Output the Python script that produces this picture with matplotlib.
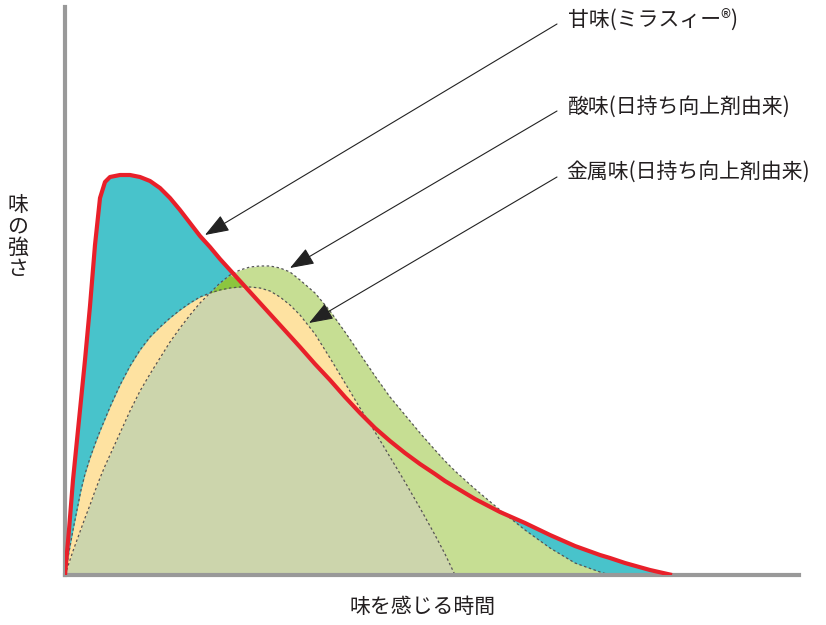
"""
Taste intensity over time: sweetness (Mirasee) vs. acidity / metallic taste
from shelf-life improver. Schematic curves read off the reference picture.
"""

import matplotlib
matplotlib.use("Agg")
import matplotlib.pyplot as plt
import numpy as np

plt.rcParams["font.family"] = ["Noto Sans CJK JP", "DejaVu Sans"]

# ------------------------------------------------------------------
# data (arbitrary units: time 0..734, intensity 0..568)
# ------------------------------------------------------------------
time = [0, 4, 8, 12, 16, 20, 25, 30, 35, 40,
        45, 50, 55, 65, 75, 85, 95, 105, 115, 125,
        135, 145, 155, 165, 175, 185, 195, 205, 215, 225,
        235, 250, 265, 280, 295, 310, 325, 340, 355, 370,
        380, 390, 410, 435, 460, 485, 510, 535, 545, 560,
        585, 607]

sweet = [0, 45, 95, 135, 175, 215, 269, 330, 377, 393,
         398, 399, 400, 400, 398, 394, 387, 377, 365, 352,
         339, 328, 316, 305, 294, 283, 272, 261, 250, 239,
         228, 211, 195, 178, 162, 147, 134, 122, 111, 101,
         94, 88, 76, 63, 52, 40, 29, 20, 17, 12,
         5, 0]

acid = [0, 12, 24, 35, 46, 57, 70, 84, 97, 109,
        120, 131, 142, 164, 184, 201, 217, 233, 247, 260,
        272, 282, 292, 300, 305, 308, 309, 309, 307, 303,
        295, 282, 264, 243, 221, 199, 178, 160, 142, 125,
        114, 104, 86, 65, 45, 27, 12, 3, 0, 0,
        0, 0]

metal = [0, 23, 45, 65, 85, 101, 117, 131, 144, 156,
         168, 179, 190, 209, 225, 238, 248, 257, 265, 272,
         278, 282, 285, 287, 288, 288, 287, 284, 278, 270,
         260, 241, 217, 192, 167, 143, 118, 93, 67, 40,
         21, 0, 0, 0, 0, 0, 0, 0, 0, 0,
         0, 0]

labels = ["甘味(ミラスィー®)", "酸味(日持ち向上剤由来)", "金属味(日持ち向上剤由来)"]
x_label = "味を感じる時間"
y_label = "味の強さ"

C_SWEET = "#48c3cb"
C_ACID = "#c6de93"
C_METAL = "#fee2a1"
C_ALL = "#ccd5ac"
C_DARK = "#8cc63f"
C_RED = "#e8202a"
C_AXIS = "#999999"
C_TEXT = "#231f20"


def main():
    t = np.array(time, dtype=float)
    s = np.array(sweet, dtype=float)
    a = np.array(acid, dtype=float)
    m = np.array(metal, dtype=float)

    fig = plt.figure(figsize=(8.26, 6.25), dpi=100)
    ax = fig.add_axes([65 / 826, 50 / 625, 734 / 826, 568 / 625])
    ax.set_xlim(0, 734)
    ax.set_ylim(0, 568)

    # stacked fills
    ax.fill_between(t, 0, s, color=C_SWEET, lw=0, zorder=1)
    ax.fill_between(t, 0, a, color=C_ACID, lw=0, zorder=1.1)
    ax.fill_between(t, 0, m, color=C_METAL, lw=0, zorder=1.2)
    ax.fill_between(t, 0, np.minimum(np.minimum(a, m), s),
                    color=C_ALL, lw=0, zorder=1.3)
    top = np.minimum(a, s)
    ax.fill_between(t, m, top, where=(top > m) & (t < 200),
                    interpolate=True, color=C_DARK, lw=0, zorder=1.4)

    # dotted outlines
    dot = dict(color="#555555", lw=0.9, ls=(0, (2, 2)), zorder=1.6)
    ia = np.nonzero(a > 0)[0][-1] + 2
    im = np.nonzero(m > 0)[0][-1] + 2
    ax.plot(t[:ia], a[:ia], **dot)
    ax.plot(t[:im], m[:im], **dot)

    # sweetness curve
    ax.plot(t, s, color=C_RED, lw=3, solid_capstyle="butt",
            solid_joinstyle="round", zorder=3)

    # axes look
    for side in ("top", "right"):
        ax.spines[side].set_visible(False)
    for side in ("left", "bottom"):
        ax.spines[side].set_color(C_AXIS)
        ax.spines[side].set_linewidth(3)
    ax.set_xticks([])
    ax.set_yticks([])
    ax.patch.set_alpha(0)

    # callouts
    tips = [(140, 340), (225, 307), (244, 252)]
    starts = [(492, 551), (492, 464), (492, 398)]
    text_pos = [(503, 555), (503, 468), (501, 403)]
    for lab, tip, st, tp in zip(labels, tips, starts, text_pos):
        ax.annotate("", xy=tip, xytext=st, annotation_clip=False,
                    arrowprops=dict(arrowstyle="-|>,head_length=1.5,head_width=0.55",
                                    mutation_scale=10, color="#222222", lw=0.8,
                                    shrinkA=0, shrinkB=0), zorder=4)
        ax.text(tp[0], tp[1], lab, fontsize=15, color=C_TEXT,
                ha="left", va="center", zorder=4)

    ax.text(358, -32, x_label, fontsize=15, color=C_TEXT,
            ha="center", va="center")
    ax.text(-47, 338, "\n".join(y_label), fontsize=15, color=C_TEXT,
            ha="center", va="center", linespacing=0.98)

    fig.savefig("out.png", dpi=100)
    plt.close(fig)


if __name__ == "__main__":
    main()
